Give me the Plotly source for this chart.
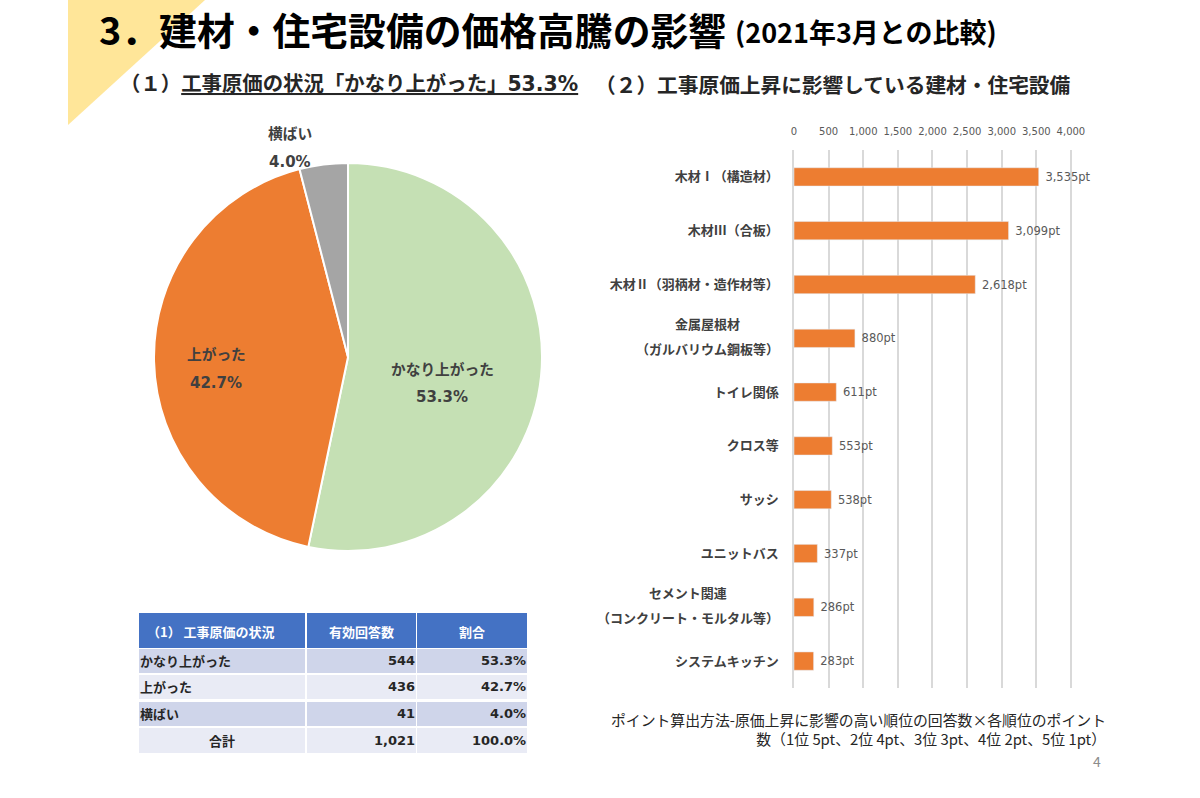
import plotly.graph_objects as go

FONT = "Noto Sans CJK JP"
FONT_NUM = "DejaVu Sans, Noto Sans CJK JP"

pie_labels = ["かなり上がった", "上がった", "横ばい"]
pie_values = [544, 436, 41]
pie_percent = ["53.3%", "42.7%", "4.0%"]
pie_colors = ["#C5E0B4", "#ED7D31", "#A5A5A5"]

bar_names = ["木材Ⅰ（構造材）", "木材Ⅲ（合板）", "木材Ⅱ（羽柄材・造作材等）",
             "金属屋根材<br>（ガルバリウム鋼板等）", "トイレ関係", "クロス等", "サッシ",
             "ユニットバス", "セメント関連<br>（コンクリート・モルタル等）", "システムキッチン"]
bar_values = [3535, 3099, 2618, 880, 611, 553, 538, 337, 286, 283]
axis_ticks = [0, 500, 1000, 1500, 2000, 2500, 3000, 3500, 4000]

table_header = ["（1） 工事原価の状況", "有効回答数", "割合"]
table_names = ["かなり上がった", "上がった", "横ばい", "合計"]
table_counts = ["544", "436", "41", "1,021"]
table_shares = ["53.3%", "42.7%", "4.0%", "100.0%"]


def px(x):
    return x / 1200


def py(y):
    return 1 - y / 798


def texto(fig, x, y, text, size, color="#404040", anchor="center", align="center", family=FONT):
    fig.add_annotation(xref="paper", yref="paper", x=px(x), y=py(y), text=text, showarrow=False,
                       xanchor=anchor, yanchor="middle", align=align,
                       font=dict(family=family, size=size, color=color))


def celda(fig, x0, y0, x1, y1, color):
    fig.add_shape(type="rect", xref="paper", yref="paper", x0=px(x0), x1=px(x1), y0=py(y0), y1=py(y1),
                  fillcolor=color, line_width=0, layer="below")


fig = go.Figure()

fig.add_shape(type="path", xref="paper", yref="paper", layer="below", fillcolor="#FFE699",
              line_width=0, path=f"M {px(68)} {py(0)} L {px(205)} {py(0)} L {px(68)} {py(125)} Z")

fig.add_trace(go.Pie(
    labels=pie_labels, values=pie_values, sort=False, direction="clockwise", rotation=0,
    marker=dict(colors=pie_colors, line=dict(color="white", width=2)),
    textinfo="none", showlegend=False,
    domain=dict(x=[px(154), px(542)], y=[py(551), py(163)])))

fig.add_trace(go.Bar(
    x=bar_values, y=bar_names, orientation="h", marker=dict(color="#ED7D31"),
    texttemplate="\u00a0%{x:,}pt", textposition="outside", cliponaxis=False, constraintext="none",
    textfont=dict(family=FONT_NUM, size=11.5, color="#595959"), showlegend=False,
    xaxis="x", yaxis="y"))

# go.Table cannot go below 35px rows with this font, so the table is drawn by hand
col_edges = [(139, 305), (307, 416), (417, 527)]
row_edges = [(649, 673), (675, 699), (702, 726), (728, 753)]
row_colors = ["#CFD5EA", "#E9EBF5", "#CFD5EA", "#E9EBF5"]

for x0, x1 in col_edges:
    celda(fig, x0, 613, x1, 648, "#4472C4")
    for (y0, y1), color in zip(row_edges, row_colors):
        celda(fig, x0, y0, x1, y1, color)

texto(fig, 145, 631, f"<b>{table_header[0]}</b>", 13, "white", "left")
texto(fig, 361, 631, f"<b>{table_header[1]}</b>", 13, "white")
texto(fig, 472, 631, f"<b>{table_header[2]}</b>", 13, "white")

for i, (y0, y1) in enumerate(row_edges):
    medio = (y0 + y1) / 2 - 0.5
    if i == len(row_edges) - 1:
        texto(fig, 222, medio, f"<b>{table_names[i]}</b>", 13, "#262626")
    else:
        texto(fig, 138, medio, f"<b>{table_names[i]}</b>", 13, "#262626", "left")
    texto(fig, 417, medio, f"<b>{table_counts[i]}</b>", 13, "#262626", "right", family=FONT_NUM)
    texto(fig, 528, medio, f"<b>{table_shares[i]}</b>", 13, "#262626", "right", family=FONT_NUM)

# pie labels
texto(fig, 442, 368, f"<b>{pie_labels[0]}</b>", 14.7)
texto(fig, 442, 397, f"<b>{pie_percent[0]}</b>", 15, family=FONT_NUM)
texto(fig, 216, 354, f"<b>{pie_labels[1]}</b>", 14.7)
texto(fig, 216, 383, f"<b>{pie_percent[1]}</b>", 15, family=FONT_NUM)
texto(fig, 290, 133, f"<b>{pie_labels[2]}</b>", 14.7)
texto(fig, 290, 162, f"<b>{pie_percent[2]}</b>", 15, family=FONT_NUM)

# title
texto(fig, 97, 28, "<b>3．建材・住宅設備の価格高騰の影響</b>", 37.8, "black", "left")
texto(fig, 733, 31, "<b>(2021年3月との比較)</b>", 27, "black", "left")
texto(fig, 118, 84, "<b>（１）<u>工事原価の状況「かなり上がった」53.3%</u></b>", 20.4, "#262626", "left", family=FONT_NUM)
texto(fig, 593, 84, "<b>（２）工事原価上昇に影響している建材・住宅設備</b>", 20.7, "#262626", "left")

# two line category names, the gap is wider than a <br> gives
for name in bar_names:
    if "<br>" in name:
        uno, dos = name.split("<br>")
        centro = 779 - len(dos) * 13 / 2
        for linea, shift in ((uno, 15), (dos, -10.5)):
            fig.add_annotation(xref="paper", yref="y", x=px(centro), y=name, yshift=shift,
                               text=f"<b>{linea}</b>", showarrow=False, xanchor="center",
                               font=dict(family=FONT, size=13, color="#404040"))

texto(fig, 1108, 729, "ポイント算出方法-原価上昇に影響の高い順位の回答数×各順位のポイント<br>"
      "数（1位 5pt、2位 4pt、3位 3pt、4位 2pt、5位 1pt）", 14.85, "#262626", "right", "right")
texto(fig, 1097, 761, "4", 14, "#8C8C8C")

fig.update_layout(
    width=1200, height=798, margin=dict(l=0, r=0, t=0, b=0, autoexpand=False),
    paper_bgcolor="white", plot_bgcolor="white",
    bargap=0.66, font=dict(family=FONT),
    xaxis=dict(domain=[px(794), px(1073)], range=[0, 4030], side="top", tickvals=axis_ticks,
               tickformat=",", showgrid=True, gridcolor="#D9D9D9", gridwidth=1.5, zeroline=False,
               ticks="outside", ticklen=10, tickcolor="rgba(0,0,0,0)",
               tickfont=dict(family=FONT_NUM, size=10, color="#595959")),
    yaxis=dict(domain=[py(688), py(150)], autorange="reversed", type="category",
               tickmode="array", tickvals=bar_names,
               ticktext=["<b>" + n + "</b>" if "<br>" not in n else "" for n in bar_names],
               showline=True, linecolor="#D9D9D9", linewidth=1.5, ticks="outside", ticklen=11,
               tickcolor="rgba(0,0,0,0)", tickfont=dict(size=13, color="#404040")))

# default page margin would push the 1200px figure off the window
fig.write_html("out.html", config=dict(displayModeBar=False, responsive=False),
               default_width="1200px", default_height="798px",
               post_script="document.body.style.margin='0';")
